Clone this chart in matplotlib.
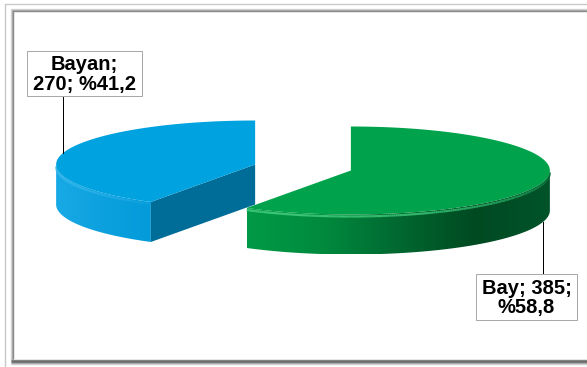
import numpy as np
import matplotlib
matplotlib.use("Agg")
import matplotlib.pyplot as plt
from matplotlib.patches import Polygon, Rectangle
from matplotlib.colors import LinearSegmentedColormap
from matplotlib.collections import LineCollection

# ---- data ----
labels = ["Bay", "Bayan"]
values = [385, 270]
top_colors = ["#00A34B", "#00A2DF"]
side_colors = [["#009A46", "#008A3E", "#006830", "#004A22", "#00532A"],
               ["#18AAE6", "#0CA0DE", "#049BDA"]]
face_colors = ["#00602C", "#006C98"]
rim_colors = ["#3CC878", "#40BDF2"]

# ---- layout ----
W, H = 587, 367
CX, CY = 303.0, 167.5
RX, RY = 199.0, 44.0
DEPTH = 40.0
EXPLODE = 0.25
START = 90.0

plt.rcParams["font.family"] = ["Liberation Sans", "DejaVu Sans"]
fig = plt.figure(figsize=(W / 100, H / 100), dpi=100)
ax = fig.add_axes([0, 0, 1, 1])
ax.set_xlim(0, W)
ax.set_ylim(H, 0)
ax.axis("off")

px = 0.72  # 1 pixel in points

# ---- frame ----
ax.plot([5, 5, W + 5], [H + 5, 3.5, 3.5], color="#C8C8C8", lw=1.4 * px, solid_capstyle="butt")
for off, col in [(11, "#D8D8D8"), (12, "#B0B0B0"), (13, "#8A8A8A")]:
    ax.plot([off, off, W + 5], [361 - (off - 11), off - 2, off - 2], color=col, lw=1.4 * px,
            solid_capstyle="butt")
for yb, col in [(359.5, "#8A8A8A"), (360.5, "#6A6A6A"), (361.5, "#707070"), (362.5, "#A0A0A0"), (364, "#D0D0D0")]:
    ax.plot([11, W + 5], [yb, yb], color=col, lw=1.4 * px, solid_capstyle="butt")

total = sum(values)
fracs = [v / total for v in values]

# slice angle ranges (clockwise from 12 o'clock)
slices = []
a = START
for f in fracs:
    span = 360 * f
    slices.append((a - span, a))
    a -= span


def pt(cx, cy, t, dz=0.0):
    r = np.radians(t)
    return cx + RX * np.cos(r), cy - RY * np.sin(r) + dz


def grad_fill(poly_xy, colors, zorder):
    cmap = LinearSegmentedColormap.from_list("g", colors)
    xs, ys = poly_xy[:, 0], poly_xy[:, 1]
    x0, x1, y0, y1 = xs.min(), xs.max(), ys.min(), ys.max()
    img = np.linspace(0, 1, 256)[None, :]
    im = ax.imshow(img, cmap=cmap, extent=[x0, x1, y1, y0], aspect="auto",
                   zorder=zorder, interpolation="bilinear")
    patch = Polygon(poly_xy, closed=True, facecolor="none", edgecolor="none")
    ax.add_patch(patch)
    im.set_clip_path(patch)


centers = []
for (t1, t2) in slices:
    m = np.radians((t1 + t2) / 2)
    centers.append((CX + EXPLODE * RX * np.cos(m), CY - EXPLODE * RY * np.sin(m)))

# draw back slice (Bayan) first, then Bay
order = [1, 0]
for k, i in enumerate(order):
    t1, t2 = slices[i]
    cx, cy = centers[i]
    z = 10 + k * 10
    # visible outer side: angles within [180, 360] (front)
    lo = t1 % 360
    hi = lo + (t2 - t1)
    segs = []
    for base in (180, 540):
        s0, s1 = max(lo, base), min(hi, base + 180)
        if s1 > s0:
            segs.append((s0, s1))
    for (s0, s1) in segs:
        ts = np.linspace(s0, s1, 200)
        top = np.array([pt(cx, cy, t) for t in ts])
        bot = np.array([pt(cx, cy, t, DEPTH) for t in ts])
        side = np.vstack([top, bot[::-1]])
        grad_fill(side, side_colors[i], z)
        # rim highlight
        rim = top + np.array([0, 2.0])
        pts = rim.reshape(-1, 1, 2)
        lsegs = np.concatenate([pts[:-1], pts[1:]], axis=1)
        cols = LinearSegmentedColormap.from_list("r", [rim_colors[i], side_colors[i][len(side_colors[i]) // 2]])(
            np.linspace(0, 1, len(lsegs)) ** 2)
        ax.add_collection(LineCollection(lsegs, colors=cols, linewidths=2.2 * px, zorder=z + 2))
    # radial faces
    for t, normal in ((t1, t1 - 90), (t2, t2 + 90)):
        if np.sin(np.radians(normal)) < -1e-6:
            ex, ey = pt(cx, cy, t)
            face = np.array([[cx, cy], [ex, ey], [ex, ey + DEPTH], [cx, cy + DEPTH]])
            ax.add_patch(Polygon(face, closed=True, facecolor=face_colors[i], edgecolor="none", zorder=z + 1))
    # top
    ts = np.linspace(t1, t2, 300)
    top = np.array([[cx, cy]] + [pt(cx, cy, t) for t in ts])
    ax.add_patch(Polygon(top, closed=True, facecolor=top_colors[i], edgecolor="none", zorder=z + 3))

# ---- labels ----
def label_text(i):
    pct = f"%{fracs[i] * 100:.1f}".replace(".", ",")
    return labels[i], values[i], pct

# Bayan label (top-left)
n, v, p = label_text(1)
bx0, by0, bx1, by1 = 27, 51, 142, 96
ax.add_patch(Rectangle((bx0, by0), bx1 - bx0, by1 - by0, facecolor="white", edgecolor="#A8A8A8",
                       lw=1.0 * px, zorder=40))
ax.text((bx0 + bx1) / 2, (by0 + by1) / 2 + 1, f"{n};\n{v}; {p}", ha="center", va="center",
        fontsize=14.5, fontweight="bold", linespacing=1.05, zorder=41)
lx = 63
cx, cy = centers[1]
ly = cy - RY * np.sqrt(1 - ((lx - cx) / RX) ** 2)
ax.plot([lx, lx], [by1, ly], color="black", lw=1.0 * px, zorder=39)

# Bay label (bottom-right)
n, v, p = label_text(0)
bx0, by0, bx1, by1 = 476, 274, 577, 320
ax.add_patch(Rectangle((bx0, by0), bx1 - bx0, by1 - by0, facecolor="white", edgecolor="#A8A8A8",
                       lw=1.0 * px, zorder=40))
ax.text((bx0 + bx1) / 2, (by0 + by1) / 2 + 1, f"{n}; {v};\n{p}", ha="center", va="center",
        fontsize=14.5, fontweight="bold", linespacing=1.05, zorder=41)
lx = 543
cx, cy = centers[0]
ly = cy + DEPTH + RY * np.sqrt(1 - ((lx - cx) / RX) ** 2)
ax.plot([lx, lx], [ly, by0], color="black", lw=1.0 * px, zorder=39)

fig.savefig("out.png", dpi=100)
